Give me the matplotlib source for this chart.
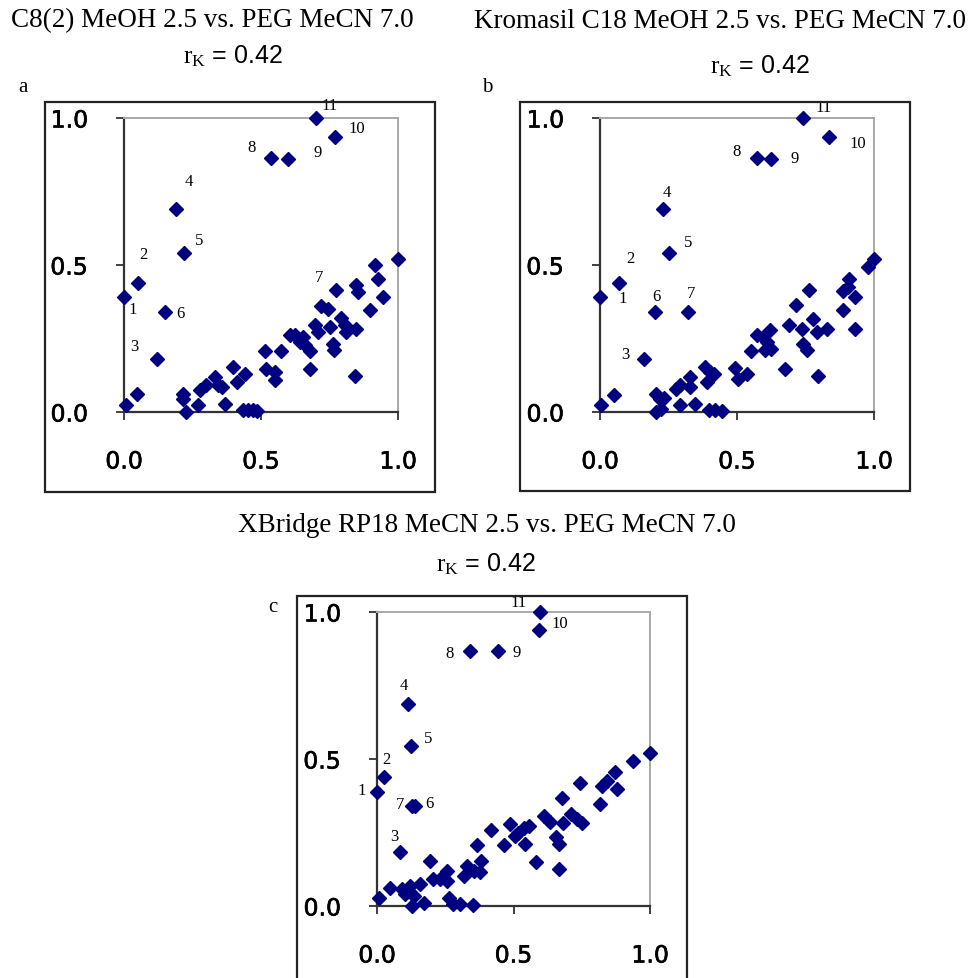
import matplotlib
matplotlib.use("Agg")
import matplotlib.pyplot as plt
import matplotlib.patheffects as pe
from matplotlib.patches import Rectangle

plt.rcParams['mathtext.fontset'] = 'custom'
plt.rcParams['mathtext.rm'] = 'Liberation Serif'

# data: the first 11 points of each panel are the numbered ones
point_labels = ['1', '2', '3', '4', '5', '6', '7', '8', '9', '10', '11']
ticks = [0.0, 0.5, 1.0]
tick_labels = ['0.0', '0.5', '1.0']

titles = ['C8(2) MeOH 2.5 vs. PEG MeCN 7.0',
          'Kromasil C18 MeOH 2.5 vs. PEG MeCN 7.0',
          'XBridge RP18 MeCN 2.5 vs. PEG MeCN 7.0']
r_k = [0.42, 0.42, 0.42]
panel_letters = ['a', 'b', 'c']

a_x = [0.00, 0.05, 0.12, 0.19, 0.22, 0.15, 0.72, 0.535, 0.60, 0.77, 0.70,
       1.00, 0.007, 0.046, 0.214, 0.216, 0.228, 0.271, 0.277, 0.299, 0.332,
       0.344, 0.356, 0.368, 0.396, 0.413, 0.441, 0.435, 0.453, 0.471, 0.484,
       0.514, 0.518, 0.551, 0.551, 0.572, 0.605, 0.623, 0.642, 0.654, 0.660,
       0.678, 0.678, 0.697, 0.709, 0.745, 0.751, 0.763, 0.767, 0.775, 0.793,
       0.806, 0.812, 0.846, 0.848, 0.854, 0.842, 0.897, 0.915, 0.927, 0.945]
a_y = [0.39, 0.44, 0.18, 0.69, 0.54, 0.34, 0.36, 0.865, 0.86, 0.935, 1.00,
       0.52, 0.025, 0.062, 0.062, 0.045, 0.00, 0.023, 0.074, 0.091, 0.119,
       0.091, 0.085, 0.028, 0.153, 0.102, 0.130, 0.006, 0.006, 0.006, 0.004,
       0.206, 0.147, 0.136, 0.108, 0.206, 0.261, 0.261, 0.238, 0.255, 0.227,
       0.206, 0.147, 0.295, 0.272, 0.351, 0.289, 0.232, 0.210, 0.414, 0.320,
       0.295, 0.272, 0.283, 0.431, 0.408, 0.121, 0.346, 0.499, 0.454, 0.391]

b_x = [0.00, 0.07, 0.16, 0.23, 0.25, 0.20, 0.32, 0.572, 0.623, 0.836, 0.74,
       1.00, 0.002, 0.052, 0.203, 0.219, 0.234, 0.204, 0.221, 0.276, 0.292,
       0.292, 0.328, 0.328, 0.345, 0.383, 0.392, 0.401, 0.416, 0.399, 0.420,
       0.444, 0.493, 0.505, 0.535, 0.550, 0.572, 0.594, 0.608, 0.620, 0.625,
       0.601, 0.676, 0.688, 0.716, 0.736, 0.740, 0.754, 0.763, 0.776, 0.791,
       0.797, 0.830, 0.886, 0.888, 0.910, 0.906, 0.931, 0.931, 0.977]
b_y = [0.39, 0.44, 0.18, 0.69, 0.54, 0.34, 0.34, 0.865, 0.86, 0.935, 1.00,
       0.52, 0.025, 0.059, 0.062, 0.045, 0.048, 0.00, 0.011, 0.079, 0.091,
       0.025, 0.119, 0.085, 0.028, 0.153, 0.102, 0.136, 0.130, 0.006, 0.006,
       0.003, 0.150, 0.113, 0.130, 0.206, 0.261, 0.255, 0.238, 0.278, 0.215,
       0.210, 0.147, 0.297, 0.363, 0.283, 0.232, 0.210, 0.414, 0.317, 0.272,
       0.121, 0.283, 0.346, 0.410, 0.454, 0.425, 0.391, 0.283, 0.493]

c_x = [0.00, 0.024, 0.085, 0.113, 0.124, 0.140, 0.130, 0.339, 0.445, 0.593,
       0.598, 1.00, 0.009, 0.049, 0.091, 0.104, 0.120, 0.128, 0.134, 0.159,
       0.171, 0.195, 0.205, 0.232, 0.256, 0.256, 0.262, 0.280, 0.305, 0.351,
       0.317, 0.329, 0.357, 0.376, 0.382, 0.366, 0.417, 0.466, 0.488, 0.506,
       0.518, 0.537, 0.543, 0.556, 0.583, 0.610, 0.634, 0.656, 0.668, 0.665,
       0.678, 0.680, 0.710, 0.732, 0.750, 0.744, 0.817, 0.823, 0.841, 0.872,
       0.880, 0.939]
c_y = [0.389, 0.44, 0.185, 0.688, 0.543, 0.341, 0.341, 0.869, 0.866, 0.94,
       1.00, 0.52, 0.026, 0.060, 0.059, 0.040, 0.068, 0.00, 0.034, 0.074,
       0.011, 0.153, 0.091, 0.091, 0.119, 0.085, 0.028, 0.006, 0.006, 0.002,
       0.102, 0.136, 0.119, 0.114, 0.153, 0.207, 0.258, 0.207, 0.278, 0.239,
       0.250, 0.267, 0.210, 0.273, 0.150, 0.307, 0.286, 0.233, 0.210, 0.125,
       0.367, 0.284, 0.313, 0.295, 0.284, 0.417, 0.347, 0.409, 0.426, 0.455,
       0.398, 0.494]

# label offsets (pixels) for the numbered points
a_off = [(9, -12), (6, 29), (-23, 13), (13, 28), (15, 13), (15, -1), (-2, 29),
         (-19, 11), (29, 7), (22, 9), (14, 13)]
b_off = [(23, -1), (11, 25), (-19, 5), (4, 17), (20, 11), (2, 16), (3, 19),
         (-20, 7), (24, 1), (29, -6), (21, 11)]
c_off = [(-15, 2), (3, 18), (-6, 16), (-4, 19), (17, 8), (14, 3), (-12, 2),
         (-20, -2), (18, -1), (21, 7), (-22, 10)]

W, H = 976, 979
DPI = 100


def px_rect(x0, y0, x1, y1):
    return [x0 / W, 1 - y1 / H, (x1 - x0) / W, (y1 - y0) / H]


# layout in pixels: inner plot area, outer chart box, title centre, rK centre, letter
layout = [
    dict(ax=(124, 119, 398, 413), box=(45, 103, 435, 493),
         title=(212, 21), rk=(233, 56), letter=(23, 87)),
    dict(ax=(600, 119, 874, 413), box=(520, 103, 910, 492),
         title=(720, 21), rk=(760, 66), letter=(487, 87)),
    dict(ax=(377, 613, 650, 907), box=(297, 597, 687, 1010),
         title=(487, 525), rk=(486, 564), letter=(273, 607)),
]

data = [(a_x, a_y, a_off), (b_x, b_y, b_off), (c_x, c_y, c_off)]

fig = plt.figure(figsize=(W / DPI, H / DPI), dpi=DPI)
thick = [pe.withStroke(linewidth=0.45, foreground='black')]

for i, (xs, ys, offs) in enumerate(data):
    lay = layout[i]
    # outer chart box
    bx = px_rect(*lay['box'])
    fig.patches.append(Rectangle((bx[0], bx[1]), bx[2], bx[3], transform=fig.transFigure,
                                 fill=False, edgecolor='#222222', linewidth=1.6))

    ax = fig.add_axes(px_rect(*lay['ax']))
    ax.plot(xs, ys, linestyle='none', marker='D', markersize=6.8,
            color='#000080', clip_on=False, zorder=3)
    for j, lab in enumerate(point_labels):
        ax.annotate(lab, (xs[j], ys[j]), xytext=offs[j], textcoords='offset pixels',
                    ha='center', va='center', fontsize=12, family='Liberation Serif',
                    annotation_clip=False)

    ax.set_xlim(0, 1)
    ax.set_ylim(0, 1)
    ax.set_xticks(ticks)
    ax.set_yticks(ticks)
    ax.set_xticklabels(tick_labels)
    ax.set_yticklabels(tick_labels)
    ax.tick_params(direction='out', length=6, width=1.3, color='#333333',
                   labelsize=17, pad=20)
    ax.tick_params(axis='x', pad=21)
    for lbl in ax.get_xticklabels() + ax.get_yticklabels():
        lbl.set_family('DejaVu Sans')
        lbl.set_path_effects(thick)
    ax.spines['left'].set_color('#333333')
    ax.spines['bottom'].set_color('#333333')
    ax.spines['left'].set_linewidth(1.6)
    ax.spines['bottom'].set_linewidth(1.6)
    ax.spines['top'].set_color('#a8a8a8')
    ax.spines['right'].set_color('#a8a8a8')
    ax.spines['top'].set_linewidth(1.4)
    ax.spines['right'].set_linewidth(1.4)

    tx, ty = lay['title']
    fig.text(tx / W, 1 - ty / H, titles[i], ha='center', va='center',
             fontsize=19.5, family='Liberation Serif')
    rx, ry = lay['rk']
    fig.text(rx / W, 1 - ry / H, r'$\mathrm{r_K}$ = %.2f' % r_k[i], ha='center',
             va='center', fontsize=18, family='Liberation Sans')
    lx, ly = lay['letter']
    fig.text(lx / W, 1 - ly / H, panel_letters[i], ha='center', va='center',
             fontsize=15, family='Liberation Serif')

fig.savefig('out.png', dpi=DPI)
